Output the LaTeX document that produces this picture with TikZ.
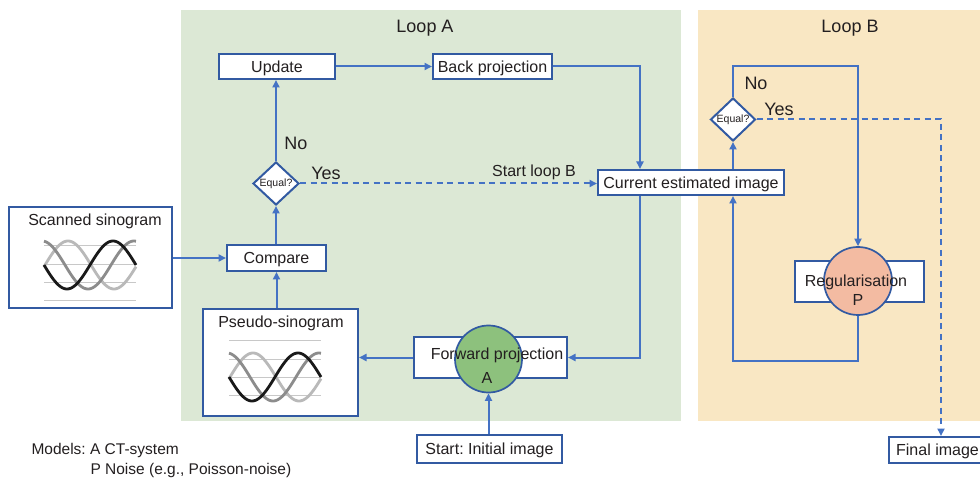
\documentclass[tikz,border=0pt]{standalone}
\usepackage{fontspec}
\setmainfont{Liberation Sans}
\frenchspacing
\usetikzlibrary{arrows.meta,shapes.geometric,calc}
\definecolor{lineblue}{RGB}{68,114,196}
\definecolor{boxblue}{RGB}{50,90,162}
\definecolor{loopgreen}{RGB}{220,232,213}
\definecolor{looptan}{RGB}{249,231,195}
\definecolor{fpgreen}{RGB}{141,193,125}
\definecolor{regpeach}{RGB}{243,187,162}
\definecolor{txt}{RGB}{35,31,32}
\definecolor{sinogrid}{RGB}{200,200,200}
\definecolor{sinolight}{RGB}{185,185,185}
\definecolor{sinomid}{RGB}{140,140,140}
\definecolor{sinodark}{RGB}{25,25,25}

% one sinogram graphic: three phase-shifted sine traces (period 92)
\newcommand{\sinotraces}{%
  \draw[sinolight,line width=2.8pt] plot[domain=44:136,samples=60,smooth] (\x,{265-24*cos((\x-68)*3.913)});
  \draw[sinomid,line width=2.8pt] plot[domain=44:136,samples=60,smooth] (\x,{265-24*cos((\x-42)*3.913)});
  \draw[sinodark,line width=2.8pt] plot[domain=44:136,samples=60,smooth] (\x,{265-24*cos((\x-113)*3.913)});
}

\begin{document}
\begin{tikzpicture}[x=1pt,y=-1pt,
  font=\fontsize{16}{19}\selectfont, text=txt,
  box/.style={draw=boxblue,line width=2pt,fill=white,inner sep=0pt,
    text height=11.5pt,text depth=0pt},
  decide/.style={diamond,draw=boxblue,line width=2pt,fill=white,inner sep=0pt,
    aspect=1,font=\fontsize{10.5}{12}\selectfont},
  model/.style={circle,draw=boxblue,line width=1.7pt,inner sep=0pt},
  arr/.style={draw=lineblue,line width=2pt,-{Triangle[length=7.5pt,width=7pt]}},
  dasharr/.style={arr,dash pattern=on 6pt off 4.5pt},
  answer/.style={font=\fontsize{18}{21}\selectfont},
  looptitle/.style={font=\fontsize{18}{21}\selectfont},
  gridline/.style={draw=sinogrid,line width=1pt}
]
\useasboundingbox (0,0) rectangle (980,478);
\fill[white] (0,0) rectangle (980,478);

% loop regions
\fill[loopgreen] (181,10) rectangle (681,421);
\fill[looptan] (698,10) rectangle (990,421);
\node[looptitle] (loopA) at (425,28) {Loop A};
\node[looptitle] (loopB) at (850,28) {Loop B};

% sinogram boxes
\node[box,minimum width=163pt,minimum height=101pt] (sc) at (90.5,257.5) {};
\node (sct) at (95,221) {Scanned sinogram};
\foreach \yy in {246,265,283,301} \draw[gridline] (44,\yy) -- (136,\yy);
\sinotraces

\node[box,minimum width=155pt,minimum height=107pt] (ps) at (280.5,362.5) {};
\node (pst) at (281,323) {Pseudo-sinogram};
\begin{scope}[shift={(185,112)}]
  \foreach \yy in {229,247,265,283} \draw[gridline] (44,\yy) -- (136,\yy);
  \sinotraces
\end{scope}

% loop A steps
\node[box,minimum width=99pt,minimum height=26pt] (cmp) at (276.5,258) {Compare};
\node[decide,minimum width=46pt,minimum height=43pt] (eqA) at (276,183.5) {Equal?};
\node[box,minimum width=116pt,minimum height=25pt] (upd) at (277,66.5) {Update};
\node[box,minimum width=119pt,minimum height=25pt] (bp) at (492.5,66.5) {Back projection};
\node[box,minimum width=186pt,minimum height=25pt] (cur) at (691,182.5) {Current estimated image};

\node[box,minimum width=153pt,minimum height=41pt] (fp) at (490.5,357.5) {};
\node[model,fill=fpgreen,minimum size=67pt] (fpc) at (488.5,359) {};
\node (fpt) at (497,355) {Forward projection};
\node (fpa) at (487,378) {A};

\node[box,minimum width=145pt,minimum height=28pt] (st) at (489.5,449) {Start: Initial image};

% loop B steps
\node[decide,minimum width=45pt,minimum height=43pt] (eqB) at (733,119.5) {Equal?};
\node[box,minimum width=129pt,minimum height=41pt] (reg) at (859.5,281.5) {};
\node[model,fill=regpeach,minimum size=68pt] (regc) at (858,281) {};
\node (regt) at (856,282) {Regularisation};
\node (regp) at (858,300) {P};
\node[box,minimum width=104pt,minimum height=26pt] (fin) at (941,450) {};
\node[text height=11.5pt,text depth=0pt] (fint) at (937.5,450) {Final image};

% routing points
\coordinate (xa) at (640,0);
\coordinate (topB) at (858,66);
\coordinate (botB) at (733,361);

% loop A connectors
\draw[arr] (cmp.west -| sc.east) -- (cmp.west);
\draw[arr] (cmp.north -| eqA) -- (eqA.south);
\draw[arr] (eqA.north) -- (upd.south -| eqA);
\draw[arr] (upd.east) -- (bp.west);
\draw[arr] (bp.east) -| (cur.north -| xa);
\draw[dasharr] (eqA.east) -- (eqA.east -| cur.west);
\draw[arr] (cur.south -| xa) |- (fp.east);
\draw[arr] (fp.west) -- (fp.west -| ps.east);
\draw[arr] (ps.north -| cmp) -- (cmp.south);
\draw[arr] (st.north -| fpc) -- (fpc.south);

% loop B connectors
\draw[arr] (cur.north -| eqB) -- (eqB.south);
\draw[arr] (eqB.north) |- (topB) -- (regc.north);
\draw[arr] (regc.south) |- (botB) -- (cur.south -| botB);
\draw[dasharr] (eqB.east) -| (fin.north);

% branch labels
\node[answer] (noA) at (296,143) {No};
\node[answer] (yesA) at (326,173) {Yes};
\node (startB) at (534,172) {Start loop B};
\node[answer] (noB) at (756,83) {No};
\node[answer] (yesB) at (779,109) {Yes};

% model legend
\node[anchor=west,font=\fontsize{15.5}{18}\selectfont] (legA) at (28,450) {Models: A CT-system};
\node[anchor=west,font=\fontsize{15.5}{18}\selectfont] (legP) at (87,470) {P Noise (e.g., Poisson-noise)};
\end{tikzpicture}
\end{document}
